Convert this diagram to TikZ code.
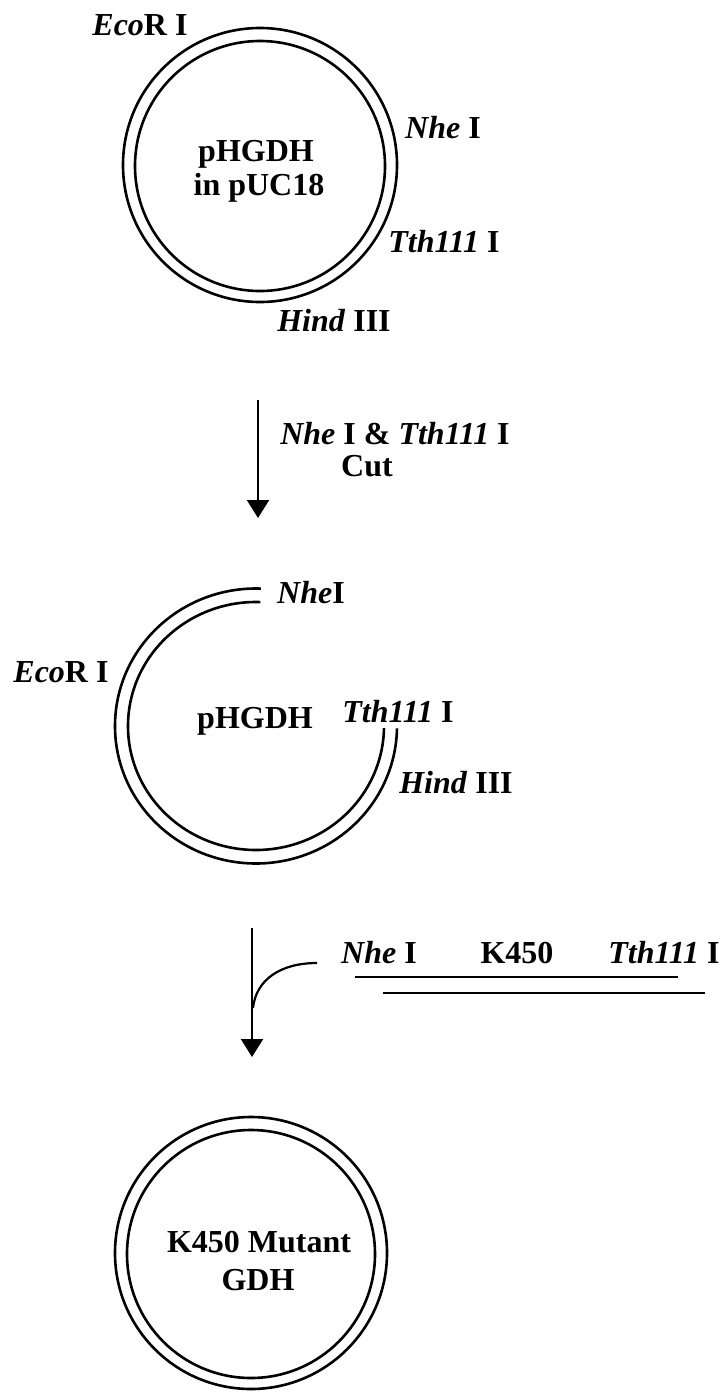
\documentclass[tikz,border=0pt]{standalone}
\usepackage{fontspec}
\setmainfont{Liberation Serif}
\usetikzlibrary{arrows.meta}
\begin{document}
\begin{tikzpicture}[x=0.5pt,y=0.5pt,
  dna/.style={line width=1.3pt},
  lab/.style={font=\fontsize{16}{19}\selectfont\bfseries, anchor=base, inner sep=0pt},
  arr/.style={line width=1.1pt, -{Triangle[width=11pt,length=9pt]}},
  frag/.style={line width=1.2pt}]
\useasboundingbox (0,0) rectangle (724,-1392);
% ---- plasmid 1
\draw[dna] (260,-165) circle[radius=137];
\draw[dna] (260,-166) circle[radius=125];
\node[lab] (eco1) at (140,-35) {\textit{Eco}R I};
\node[lab] (nhe1) at (443,-138) {\textit{Nhe} I};
\node[lab] (p1a) at (256,-161) {pHGDH};
\node[lab] (p1b) at (259,-195) {in pUC18};
\node[lab] (tth1) at (444,-252) {\textit{Tth111} I};
\node[lab] (hin1) at (334,-331) {\textit{Hind} III};
% ---- arrow 1
\coordinate (a1s) at (258,-400);
\coordinate (a1e) at (258,-518);
\draw[arr] (a1s) -- (a1e);
\node[lab] (cut1) at (395,-444) {\textit{Nhe} I \& \textit{Tth111} I};
\node[lab] (cut2) at (367,-476) {Cut};
% ---- opened plasmid
\draw[dna] (256,-726) ++(88:141 and 137.5) arc[start angle=88, end angle=359, x radius=141, y radius=137.5];
\draw[dna] (256,-726) ++(88:128 and 124) arc[start angle=88, end angle=359, x radius=128, y radius=124];
\node[lab] (nhe2) at (311,-603) {\textit{Nhe}I};
\node[lab] (eco2) at (61,-682) {\textit{Eco}R I};
\node[lab] (p2) at (255,-728) {pHGDH};
\node[lab] (tth2) at (398,-722) {\textit{Tth111} I};
\node[lab] (hin2) at (456,-793) {\textit{Hind} III};
% ---- arrow 2 with insert
\coordinate (a2s) at (252,-928);
\coordinate (a2e) at (252,-1057);
\coordinate (c2s) at (317,-963);
\coordinate (c2e) at (253,-1008);
\draw[arr] (a2s) -- (a2e);
\draw[line width=1.1pt] (c2s) .. controls (280,-963) and (256,-980) .. (c2e);
\node[lab] (nhe3) at (379,-963) {\textit{Nhe} I};
\node[lab] (k450) at (517,-963) {K450};
\node[lab] (tth3) at (664,-963) {\textit{Tth111} I};
\coordinate (f1a) at (355,-977);
\coordinate (f1b) at (678,-977);
\coordinate (f2a) at (383,-993);
\coordinate (f2b) at (705,-993);
\draw[frag] (f1a) -- (f1b);
\draw[frag] (f2a) -- (f2b);
% ---- mutant plasmid
\draw[dna] (251,-1253) circle[radius=136];
\draw[dna] (251,-1254) circle[radius=124];
\node[lab] (m1) at (259,-1252) {K450 Mutant};
\node[lab] (m2) at (258,-1290) {GDH};
\end{tikzpicture}
\end{document}
